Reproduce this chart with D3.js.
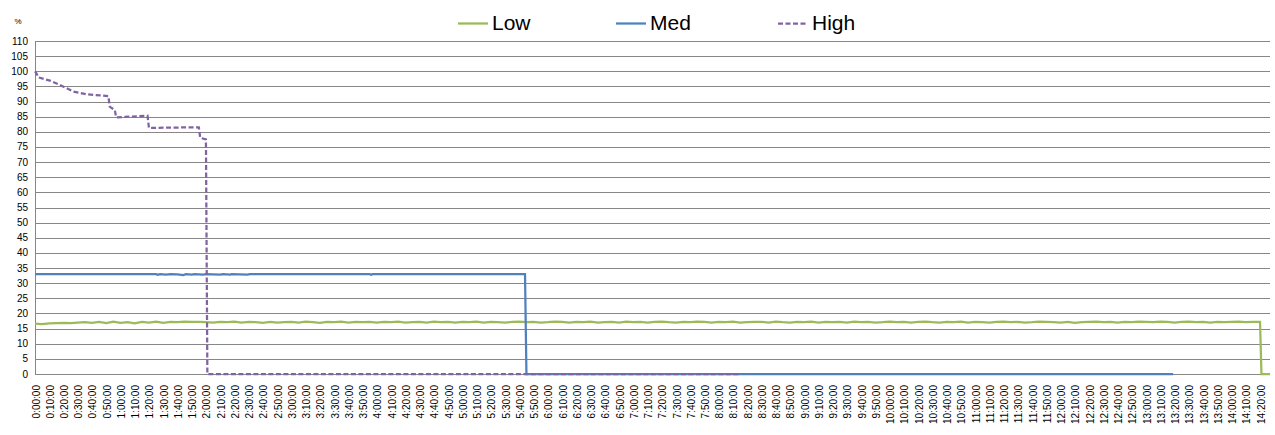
<!DOCTYPE html>
<html>
<head>
<meta charset="utf-8">
<script src="https://cdn.jsdelivr.net/npm/d3@7"></script>
<style>
  body { margin: 0; background: #fff; }
  svg { display: block; font-family: "Liberation Sans", Arial, sans-serif; }
</style>
</head>
<body>
<div id="chart"></div>
<script>
// values, time in minutes from start

// Low: one reading every 5 minutes, 0:00 .. 14:20
const lowStep = 5;
const lowValues = [
  16.6,16.5,16.7,16.8,16.9,16.8,17.0,17.1,16.9,17.2,16.8,17.3,
  16.9,17.1,16.7,17.2,17.0,17.3,16.9,17.2,17.1,17.3,17.2,17.2,
  17.1,17.0,17.2,17.1,17.3,17.0,17.2,17.1,16.9,17.2,17.0,17.1,
  17.2,17.0,17.3,17.1,16.9,17.2,17.1,17.3,17.0,17.2,17.1,17.2,
  17.0,17.2,17.1,17.3,17.0,17.1,17.2,17.0,17.3,17.1,17.2,17.0,
  17.2,17.1,17.3,17.0,17.2,17.1,17.0,17.2,17.3,17.1,17.2,17.0,
  17.1,17.3,17.2,17.0,17.2,17.1,17.3,17.0,17.1,17.2,17.0,17.3,
  17.1,17.2,17.0,17.2,17.3,17.1,17.0,17.2,17.1,17.3,17.2,17.0,
  17.2,17.1,17.3,17.0,17.1,17.2,17.2,17.0,17.3,17.1,17.0,17.2,
  17.1,17.3,17.0,17.2,17.1,17.2,17.0,17.3,17.1,17.2,17.0,17.1,
  17.3,17.1,17.2,17.0,17.2,17.3,17.1,17.0,17.2,17.1,17.3,17.0,
  17.2,17.1,17.0,17.2,17.3,17.1,17.2,17.0,17.1,17.3,17.2,17.1,
  17.0,17.2,16.9,17.1,17.2,17.3,17.1,17.2,17.0,17.2,17.1,17.3,
  17.2,17.1,17.3,17.2,17.0,17.2,17.3,17.1,17.2,17.0,17.2,17.1,
  17.2,17.3,17.1,17.2,17.2
];
const lowTailTimes = [861, 867];
const lowTailValues = [0, 0];

const medTimes  = [0, 85, 86, 88, 92, 95, 100, 104, 106, 110, 112, 118, 120, 130, 132, 137, 138, 149, 151, 235, 236, 237, 344, 345, 799];
const medValues = [33.0, 33.0, 32.8, 33.0, 32.8, 33.0, 32.9, 32.7, 33.0, 32.8, 33.0, 32.8, 33.0, 32.8, 33.0, 32.8, 33.0, 32.8, 33.0, 33.0, 32.8, 33.0, 33.0, 0, 0];

const highTimes  = [0, 1, 2.3, 10.5, 17.5, 27, 36, 51.5, 52.5, 56, 57, 66, 79, 80, 115, 116, 120, 121, 495];
const highValues = [100, 99.3, 98, 96.9, 95.5, 93.3, 92.4, 91.8, 88.3, 87.2, 84.8, 85.0, 85.3, 81.3, 81.5, 78, 77.5, 0, 0];

const seriesNames = ["Low", "Med", "High"];
const seriesColors = ["#9BBB59", "#4F81BD", "#8064A2"];

const yTicks = d3.range(0, 111, 5);
const xTicks = d3.range(0, 861, 10);

const width = 1275, height = 435;
const plotLeft = 35, plotRight = 1270, plotTop = 41, plotBottom = 374;

const svg = d3.select("#chart").append("svg")
  .attr("width", width).attr("height", height);

const x = d3.scaleLinear().domain([0, 867]).range([plotLeft, plotRight]);
const y = d3.scaleLinear().domain([0, 110]).range([plotBottom, plotTop]);

// gridlines
svg.append("g").selectAll("line").data(yTicks).enter().append("line")
  .attr("x1", plotLeft).attr("x2", plotRight)
  .attr("y1", d => Math.round(y(d)) + 0.5).attr("y2", d => Math.round(y(d)) + 0.5)
  .attr("stroke", "#878787").attr("stroke-width", 1);

svg.append("line")
  .attr("x1", plotLeft + 0.5).attr("x2", plotLeft + 0.5)
  .attr("y1", plotTop).attr("y2", plotBottom + 0.5)
  .attr("stroke", "#878787");

// y labels
svg.append("g").selectAll("text").data(yTicks).enter().append("text")
  .attr("x", 28).attr("y", d => y(d)).attr("dy", "0.35em")
  .attr("text-anchor", "end").attr("font-size", 10).attr("fill", "#000")
  .text(d => d);

svg.append("text").attr("x", 18).attr("y", 24).attr("font-size", 8)
  .attr("text-anchor", "middle").text("%");

// x labels, rotated
function fmt(m) {
  const h = Math.floor(m / 60), mm = m % 60;
  return h + ":" + String(mm).padStart(2, "0") + ":00";
}
svg.append("g").selectAll("text").data(xTicks).enter().append("text")
  .attr("transform", d => "translate(" + (x(d) + 1) + ",385) rotate(-90)")
  .attr("dy", "0.35em").attr("text-anchor", "end")
  .attr("font-size", 10).attr("fill", "#000")
  .text(fmt);

// series
const line = d3.line().x(d => x(d[0])).y(d => y(d[1]));

const lowPts = lowValues.map((v, i) => [i * lowStep, v])
  .concat(lowTailTimes.map((t, i) => [t, lowTailValues[i]]));
const medPts = medTimes.map((t, i) => [t, medValues[i]]);
const highPts = highTimes.map((t, i) => [t, highValues[i]]);

svg.append("path").datum(lowPts).attr("d", line)
  .attr("fill", "none").attr("stroke", seriesColors[0]).attr("stroke-width", 2.25);
svg.append("path").datum(medPts).attr("d", line)
  .attr("fill", "none").attr("stroke", seriesColors[1]).attr("stroke-width", 2.25);
svg.append("path").datum(highPts).attr("d", line)
  .attr("fill", "none").attr("stroke", seriesColors[2]).attr("stroke-width", 2.25)
  .attr("stroke-dasharray", "5,2.5");

// legend
const legendX = [458, 616, 778];
const lg = svg.append("g").selectAll("g").data(seriesNames).enter().append("g");
lg.append("line")
  .attr("x1", (d, i) => legendX[i]).attr("x2", (d, i) => legendX[i] + 30)
  .attr("y1", 23.5).attr("y2", 23.5)
  .attr("stroke", (d, i) => seriesColors[i]).attr("stroke-width", 2.25)
  .attr("stroke-dasharray", (d, i) => i === 2 ? "5,2.5" : null);
lg.append("text")
  .attr("x", (d, i) => legendX[i] + 34).attr("y", 30)
  .attr("font-size", 21).attr("fill", "#000")
  .text(d => d);
</script>
</body>
</html>
